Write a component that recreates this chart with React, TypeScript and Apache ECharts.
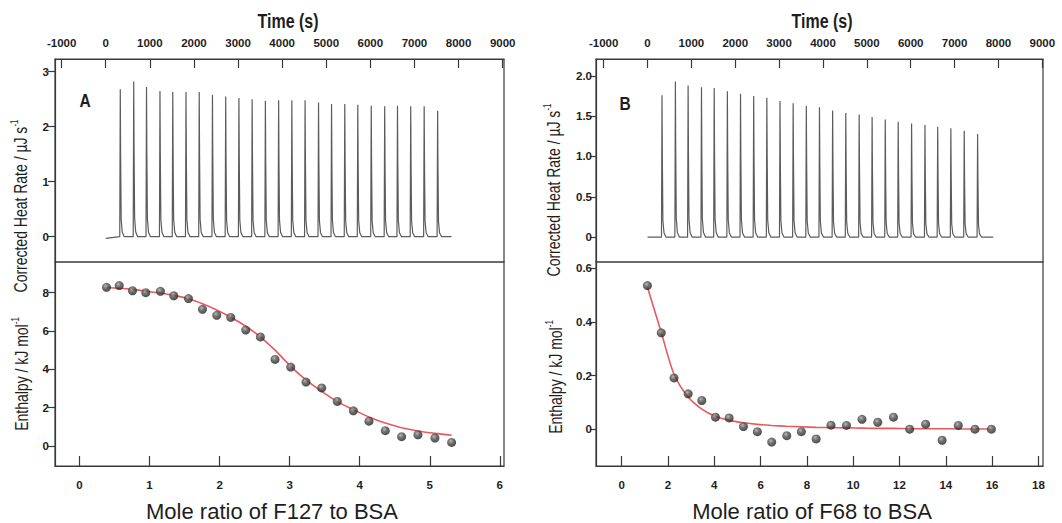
import React, { useEffect, useRef } from "react";
import * as echarts from "echarts";

// ---------- data ----------
const injectionTimes = [330, 635, 925, 1230, 1520, 1820, 2120, 2420, 2720, 3020, 3320, 3620, 3920, 4220, 4520, 4825, 5120, 5420, 5715, 6020, 6325, 6615, 6915, 7220, 7525];
const peakHeightsA = [2.68, 2.82, 2.72, 2.65, 2.63, 2.63, 2.63, 2.58, 2.55, 2.52, 2.5, 2.47, 2.48, 2.48, 2.48, 2.44, 2.41, 2.41, 2.4, 2.38, 2.37, 2.38, 2.37, 2.37, 2.29];
const peakHeightsB = [1.76, 1.93, 1.88, 1.86, 1.85, 1.81, 1.78, 1.75, 1.73, 1.69, 1.66, 1.63, 1.61, 1.57, 1.54, 1.52, 1.49, 1.46, 1.43, 1.41, 1.39, 1.37, 1.35, 1.32, 1.28];
const baselineEndA = 7840;
const baselineEndB = 7880;

const moleRatioA = [0.385, 0.566, 0.756, 0.946, 1.155, 1.346, 1.555, 1.755, 1.959, 2.159, 2.373, 2.582, 2.791, 3.015, 3.233, 3.457, 3.68, 3.909, 4.132, 4.365, 4.598, 4.831, 5.074, 5.312];
const enthalpyA = [8.28, 8.37, 8.1, 8.0, 8.07, 7.84, 7.69, 7.13, 6.82, 6.71, 6.05, 5.69, 4.52, 4.12, 3.34, 3.03, 2.33, 1.84, 1.3, 0.8, 0.49, 0.59, 0.42, 0.19];
const fitA = [8.27, 8.23, 8.17, 8.08, 7.98, 7.86, 7.68, 7.42, 7.1, 6.72, 6.25, 5.7, 5.0, 4.16, 3.45, 2.85, 2.32, 1.9, 1.52, 1.2, 0.96, 0.79, 0.66, 0.56];

const moleRatioB = [1.11, 1.71, 2.26, 2.87, 3.46, 4.05, 4.64, 5.26, 5.86, 6.48, 7.13, 7.76, 8.4, 9.04, 9.71, 10.38, 11.06, 11.74, 12.44, 13.13, 13.84, 14.54, 15.26, 15.97];
const enthalpyB = [0.535, 0.359, 0.191, 0.132, 0.107, 0.045, 0.042, 0.01, -0.009, -0.048, -0.024, -0.009, -0.036, 0.015, 0.014, 0.037, 0.026, 0.045, 0.0, 0.019, -0.041, 0.014, 0.0, 0.0];
const fitB = [0.53, 0.36, 0.205, 0.12, 0.075, 0.048, 0.033, 0.024, 0.018, 0.014, 0.011, 0.009, 0.007, 0.006, 0.005, 0.004, 0.003, 0.003, 0.002, 0.002, 0.002, 0.001, 0.001, 0.001];

const timeTicks = [-1000, 0, 1000, 2000, 3000, 4000, 5000, 6000, 7000, 8000, 9000];
const heatTicksA = [0, 1, 2, 3];
const heatTicksB = [0, 0.5, 1, 1.5, 2];
const enthalpyTicksA = [0, 2, 4, 6, 8];
const enthalpyTicksB = [0, 0.2, 0.4, 0.6];
const ratioTicksA = [0, 1, 2, 3, 4, 5, 6];
const ratioTicksB = [0, 2, 4, 6, 8, 10, 12, 14, 16, 18];

// ---------- helpers ----------
const SANS = "'Liberation Sans', Arial, sans-serif";
const AXIS_COLOR = "#3a3a3a";
const TEXT_COLOR = "#1e1e1e";
const NARROW_SCALE = 0.82;

function buildTrace(times: number[], heights: number[], end: number, startY: number) {
  const pts: number[][] = [[0, startY]];
  times.forEach((t, i) => {
    const h = heights[i];
    pts.push([t - 12, 0], [t, h], [t + 8, h * 0.55], [t + 20, h * 0.12], [t + 45, h * 0.03], [t + 90, 0]);
  });
  pts.push([end, 0]);
  return pts;
}

const zip = (xs: number[], ys: number[]) => xs.map((x, i) => [x, ys[i]]);

const fmtInt = (v: number) => String(v);
const fmt1 = (v: number) => (v === 0 ? "0" : v.toFixed(1));

function valueAxis(gridIndex: number, position: string, min: number, max: number, ticks: number[], opts: any = {}) {
  return {
    type: "value",
    gridIndex,
    position,
    min,
    max,
    splitLine: { show: false },
    axisLine: { show: true, onZero: false, lineStyle: { color: AXIS_COLOR, width: 1.2 } },
    axisTick: {
      show: true,
      inside: opts.inside ?? false,
      length: opts.tickLen ?? 7,
      customValues: ticks,
      lineStyle: { color: AXIS_COLOR, width: 1.2 },
    },
    axisLabel: {
      show: true,
      customValues: ticks,
      margin: opts.margin ?? 8,
      color: TEXT_COLOR,
      fontFamily: SANS,
      fontWeight: "bold",
      fontSize: 11.5,
      formatter: opts.formatter ?? fmtInt,
    },
  };
}

const sphere = {
  type: "radial",
  x: 0.4,
  y: 0.35,
  r: 0.65,
  colorStops: [
    { offset: 0, color: "#a8a8a8" },
    { offset: 0.4, color: "#555555" },
    { offset: 1, color: "#1f1f1f" },
  ],
};

function label(x: number, y: number, text: string, font: string, scale = NARROW_SCALE) {
  return {
    type: "text",
    x,
    y,
    scaleX: scale,
    style: { text, fill: TEXT_COLOR, font, align: "center", verticalAlign: "middle" },
  };
}

export default function App() {
  const ref = useRef<HTMLDivElement>(null);

  useEffect(() => {
    if (!ref.current) return;
    const chart = echarts.init(ref.current, null, { renderer: "svg" });

    const gridStyle = { show: true, borderColor: AXIS_COLOR, borderWidth: 1.2, backgroundColor: "transparent", containLabel: false };

    const option: any = {
      animation: false,
      backgroundColor: "#ffffff",
      grid: [
        { ...gridStyle, left: 55, top: 59, width: 449, height: 203 },
        { ...gridStyle, left: 55, top: 262, width: 449, height: 204 },
        { ...gridStyle, left: 596, top: 59, width: 447, height: 203 },
        { ...gridStyle, left: 596, top: 262, width: 447, height: 204 },
      ],
      xAxis: [
        valueAxis(0, "top", -1150, 9030, timeTicks, { inside: true, tickLen: 9, margin: 10 }),
        valueAxis(1, "bottom", -0.35, 6.06, ratioTicksA, { inside: true, tickLen: 10, margin: 13 }),
        valueAxis(2, "top", -1175, 9016, timeTicks, { inside: true, tickLen: 9, margin: 10 }),
        valueAxis(3, "bottom", -1.11, 18.2, ratioTicksB, { inside: true, tickLen: 10, margin: 13 }),
      ],
      yAxis: [
        valueAxis(0, "left", -0.46, 3.23, heatTicksA, { tickLen: 7, margin: 6 }),
        valueAxis(1, "left", -1.04, 9.6, enthalpyTicksA, { tickLen: 7, margin: 6 }),
        valueAxis(2, "left", -0.31, 2.21, heatTicksB, { tickLen: 6, margin: 4, formatter: fmt1 }),
        valueAxis(3, "left", -0.137, 0.623, enthalpyTicksB, { tickLen: 6, margin: 4, formatter: fmt1 }),
      ],
      series: [
        {
          type: "line",
          xAxisIndex: 0,
          yAxisIndex: 0,
          data: buildTrace(injectionTimes, peakHeightsA, baselineEndA, -0.03),
          showSymbol: false,
          lineStyle: { color: "#5c5c5c", width: 1.2 },
        },
        {
          type: "line",
          xAxisIndex: 1,
          yAxisIndex: 1,
          data: zip(moleRatioA, fitA),
          smooth: 0.3,
          showSymbol: false,
          z: 2,
          lineStyle: { color: "#e8585c", width: 1.6 },
        },
        {
          type: "scatter",
          xAxisIndex: 1,
          yAxisIndex: 1,
          data: zip(moleRatioA, enthalpyA),
          symbolSize: 9,
          z: 3,
          itemStyle: { color: sphere },
        },
        {
          type: "line",
          xAxisIndex: 2,
          yAxisIndex: 2,
          data: buildTrace(injectionTimes, peakHeightsB, baselineEndB, 0),
          showSymbol: false,
          lineStyle: { color: "#5c5c5c", width: 1.2 },
        },
        {
          type: "line",
          xAxisIndex: 3,
          yAxisIndex: 3,
          data: zip(moleRatioB, fitB),
          smooth: 0.3,
          showSymbol: false,
          z: 2,
          lineStyle: { color: "#e8585c", width: 1.6 },
        },
        {
          type: "scatter",
          xAxisIndex: 3,
          yAxisIndex: 3,
          data: zip(moleRatioB, enthalpyB),
          symbolSize: 9,
          z: 3,
          itemStyle: { color: sphere },
        },
      ],
      graphic: [
        label(288, 21, "Time (s)", `bold 19.5px ${SANS}`),
        label(822, 21, "Time (s)", `bold 19.5px ${SANS}`),
        label(85, 100, "A", `bold 19px ${SANS}`),
        label(625, 103, "B", `bold 19px ${SANS}`),
        label(272, 511, "Mole ratio of F127 to BSA", `22px ${SANS}`, 1),
        label(812, 511, "Mole ratio of F68 to BSA", `22px ${SANS}`, 1),
        ...[
          { x: 20, y: 206, t: "Corrected Heat Rate / µJ s" },
          { x: 21, y: 374, t: "Enthalpy / kJ mol" },
          { x: 553, y: 190, t: "Corrected Heat Rate / µJ s" },
          { x: 555, y: 377, t: "Enthalpy / kJ mol" },
        ].map((d) => ({
          type: "text",
          x: d.x,
          y: d.y,
          rotation: Math.PI / 2,
          scaleX: 0.8,
          style: {
            text: `{b|${d.t}}{sup|-1}`,
            align: "center",
            verticalAlign: "middle",
            rich: {
              b: { fontSize: 17.5, fontFamily: SANS, fill: TEXT_COLOR, color: TEXT_COLOR, lineHeight: 20, verticalAlign: "bottom" },
              sup: { fontSize: 10, fontFamily: SANS, fill: TEXT_COLOR, color: TEXT_COLOR, lineHeight: 20, verticalAlign: "top" },
            },
          },
        })),
      ],
    };

    chart.setOption(option);
    return () => chart.dispose();
  }, []);

  return <div ref={ref} style={{ position: "fixed", left: 0, top: 0, width: 1062, height: 523, background: "#fff" }} />;
}
